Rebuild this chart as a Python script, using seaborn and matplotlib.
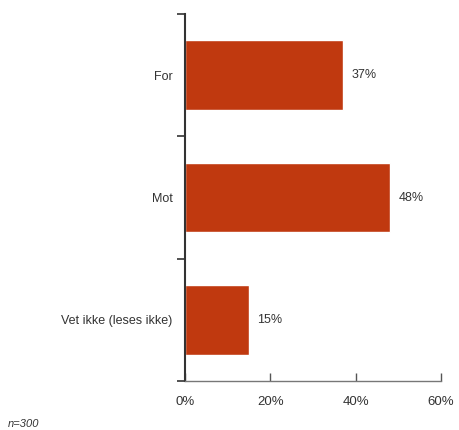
import matplotlib
matplotlib.use("Agg")
import pandas as pd
import seaborn as sns
from matplotlib import pyplot as plt
from matplotlib.ticker import FixedLocator, PercentFormatter

# data
categories = ["For", "Mot", "Vet ikke (leses ikke)"]
values = [37, 48, 15]
value_labels = ["37%", "48%", "15%"]
x_ticks = [0, 20, 40, 60]

df = pd.DataFrame({"svar": categories, "andel": values})

sns.set_style("white")
plt.rcParams["font.family"] = ["Liberation Sans", "DejaVu Sans"]

fig = plt.figure(figsize=(4.59, 4.30), dpi=100)
ax = fig.add_axes([0.403, 0.114, 0.558, 0.853])

sns.barplot(data=df, x="andel", y="svar", color="#C0390F", saturation=1,
            width=0.57, ax=ax)

ax.set_xlim(0, 60)
ax.set_ylim(2.5, -0.5)
ax.set_xticks(x_ticks)
ax.xaxis.set_major_formatter(PercentFormatter(decimals=0))
ax.set_xlabel("")
ax.set_ylabel("")

# category boundaries as ticks on the y axis
ax.yaxis.set_minor_locator(FixedLocator([-0.5, 0.5, 1.5, 2.5]))
ax.tick_params(axis="y", which="major", length=0, pad=9, labelsize=9, labelcolor="#333333")
ax.tick_params(axis="y", which="minor", length=6, width=1.2, color="#333333", direction="out", left=True)
ax.tick_params(axis="x", which="major", length=6, width=1.0, color="#555555", direction="in",
               bottom=True, labelsize=9.5, labelcolor="#333333", pad=11)

for side in ["top", "right"]:
    ax.spines[side].set_visible(False)
ax.spines["left"].set_color("#333333")
ax.spines["left"].set_linewidth(1.5)
ax.spines["bottom"].set_color("#777777")
ax.spines["bottom"].set_linewidth(1.0)

for i, (v, lab) in enumerate(zip(values, value_labels)):
    ax.text(v + 2.0, i, lab, va="center", ha="left", fontsize=9, color="#333333")

fig.text(0.018, 0.008, "n=300", fontsize=8, style="italic", color="#333333")

fig.savefig("out.png", dpi=100)
